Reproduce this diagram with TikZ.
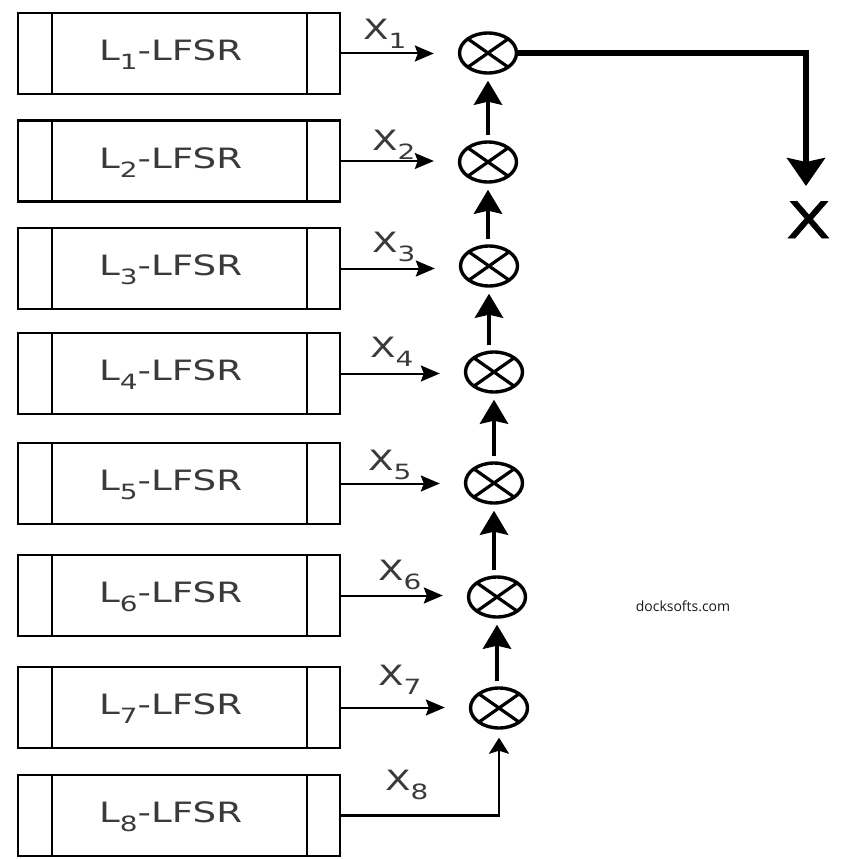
\documentclass[tikz,border=0pt]{standalone}
\usepackage{fontspec}
\setmainfont{DejaVu Sans}
\newfontfamily\wfont[FakeStretch=1.33]{DejaVu Sans}
\newfontfamily\xfont[FakeStretch=1.3,FakeBold=1.2]{DejaVu Sans}
\newfontfamily\wmfont{Open Sans}
\usetikzlibrary{arrows.meta,shapes.geometric}
\definecolor{txt}{HTML}{3A3A3A}
\newcommand\sbs[1]{\raisebox{-9pt}{\fontsize{21}{21}\selectfont #1}}
\begin{document}
\begin{tikzpicture}[x=1pt,y=-1pt,
  lfsr/.style={draw, line width=2.6pt, minimum width=322pt, minimum height=81pt, inner sep=0pt,
    path picture={
      \draw[line width=2.6pt] ([xshift=34pt]path picture bounding box.north west) -- ([xshift=34pt]path picture bounding box.south west);
      \draw[line width=2.6pt] ([xshift=-33pt]path picture bounding box.north east) -- ([xshift=-33pt]path picture bounding box.south east);
    }},
  mult/.style={draw, ellipse, line width=3.4pt, minimum width=57pt, minimum height=40pt, inner sep=0pt,
    path picture={
      \draw[line width=3.2pt] (path picture bounding box.north west) -- (path picture bounding box.south east);
      \draw[line width=3.2pt] (path picture bounding box.south west) -- (path picture bounding box.north east);
    }},
  lbl/.style={anchor=base west, inner sep=0pt, text=txt, font=\wfont\fontsize{28}{28}\selectfont},
  harrow/.style={line width=2pt, -{Stealth[length=19pt,width=16pt,inset=3pt]}, shorten >=24pt},
  varrow/.style={line width=4.5pt, -{Stealth[length=24pt,width=28pt,inset=3pt]}, shorten <=5pt, shorten >=6pt},
  oarrow/.style={line width=5.5pt, -{Stealth[length=28pt,width=38pt,inset=4pt]}},
  farrow/.style={line width=2.5pt, -{Stealth[length=16pt,width=20pt,inset=3pt]}, shorten >=8pt}
]
\useasboundingbox (0,0) rectangle (850,859);
\fill[white] (0,0) rectangle (850,859);

% LFSR boxes
\node[lfsr] (b1) at (179,53.5) {};
\node[lfsr] (b2) at (179,161) {};
\node[lfsr] (b3) at (179,268.5) {};
\node[lfsr] (b4) at (179,373.5) {};
\node[lfsr] (b5) at (179,483.5) {};
\node[lfsr] (b6) at (179,595.5) {};
\node[lfsr] (b7) at (179,707.5) {};
\node[lfsr] (b8) at (179,815.5) {};

% box labels
\node[lbl] (t1) at (99,61) {L\sbs{1}-LFSR};
\node[lbl] (t2) at (99,168) {L\sbs{2}-LFSR};
\node[lbl] (t3) at (99,275.5) {L\sbs{3}-LFSR};
\node[lbl] (t4) at (99,380.5) {L\sbs{4}-LFSR};
\node[lbl] (t5) at (99,490.5) {L\sbs{5}-LFSR};
\node[lbl] (t6) at (99,602.5) {L\sbs{6}-LFSR};
\node[lbl] (t7) at (99,714.5) {L\sbs{7}-LFSR};
\node[lbl] (t8) at (99,822.5) {L\sbs{8}-LFSR};

% multipliers
\node[mult] (c1) at (488,53) {};
\node[mult] (c2) at (488,162) {};
\node[mult] (c3) at (489,266) {};
\node[mult] (c4) at (494,372) {};
\node[mult] (c5) at (494,483) {};
\node[mult] (c6) at (497,597) {};
\node[mult] (c7) at (499,708) {};

% x labels
\node[lbl] (x1) at (363,40) {X\sbs{1}};
\node[lbl] (x2) at (372,150) {X\sbs{2}};
\node[lbl] (x3) at (372,252) {X\sbs{3}};
\node[lbl] (x4) at (370,357) {X\sbs{4}};
\node[lbl] (x5) at (368,470) {X\sbs{5}};
\node[lbl] (x6) at (378,580) {X\sbs{6}};
\node[lbl] (x7) at (378,685) {X\sbs{7}};
\node[lbl] (x8) at (385,790) {X\sbs{8}};

% horizontal arrows
\foreach \i in {1,...,7}{
  \draw[harrow] (b\i.east) -- (b\i.east -| c\i.west);
}
% last input
\draw[farrow] (b8.east) -| (c7.south);

% vertical chain (kept vertical)
\draw[varrow] (c2.north -| c1.south) -- (c1.south);
\draw[varrow] (c3.north -| c2.south) -- (c2.south);
\draw[varrow] (c4.north -| c3.south) -- (c3.south);
\draw[varrow] (c5.north -| c4.south) -- (c4.south);
\draw[varrow] (c6.north -| c5.south) -- (c5.south);
\draw[varrow] (c7.north -| c6.south) -- (c6.south);

% output
\coordinate (ytip) at (806,186);
\draw[oarrow] (c1.east) -| (ytip);
\node[inner sep=0pt, anchor=base, font=\xfont\fontsize{50}{50}\selectfont] (xout) at (808.5,238) {X};

% watermark
\node[font=\wmfont\fontsize{14}{14}\selectfont, text=black!90] (wm) at (683,606) {docksofts.com};
\end{tikzpicture}
\end{document}
